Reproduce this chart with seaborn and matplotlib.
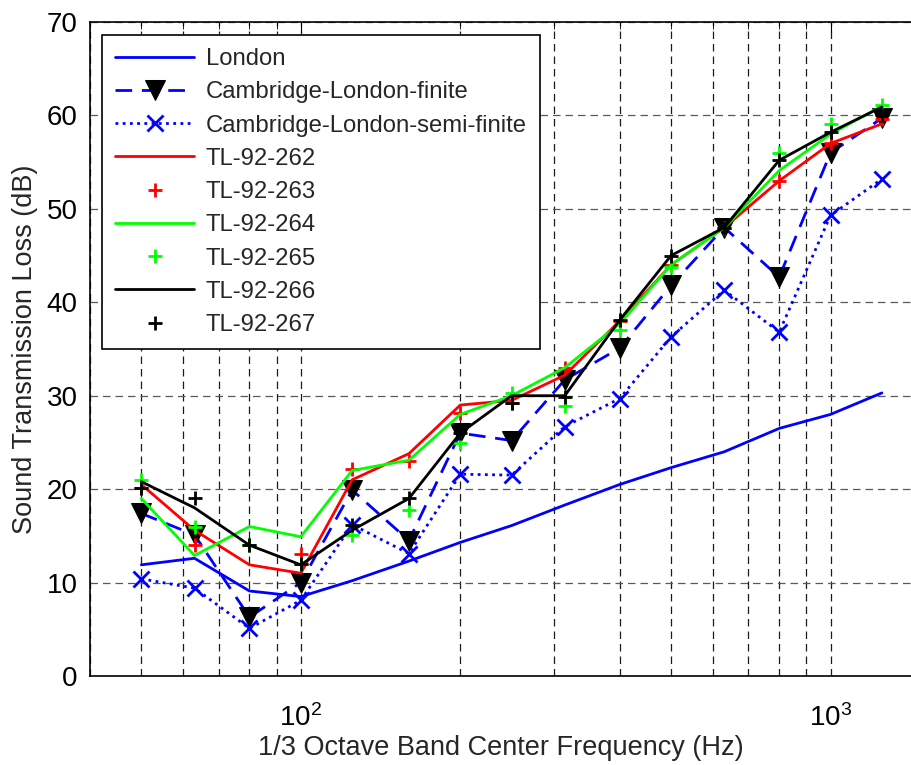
import matplotlib
matplotlib.use("Agg")
import matplotlib.pyplot as plt
import seaborn as sns

# 1/3 octave band centre frequencies (Hz)
freqs = [50, 63, 80, 100, 125, 160, 200, 250, 315, 400, 500, 630, 800, 1000, 1250]

# transmission loss (dB)
london = [11.9, 12.6, 9.1, 8.5, 10.2, 12.3, 14.3, 16.1, 18.3, 20.5, 22.3, 24.0, 26.5, 28.0, 30.3]
cam_finite = [17.4, 15.1, 6.3, 10.0, 19.9, 14.5, 26.0, 25.2, 31.7, 35.1, 41.8, 48.0, 42.7, 56.0, 59.7]
cam_semi = [10.4, 9.4, 5.1, 8.1, 16.2, 13.1, 21.6, 21.5, 26.7, 29.7, 36.3, 41.3, 36.8, 49.3, 53.2]
tl_262 = [20.5, 15.6, 11.9, 11.0, 21.0, 23.8, 29.0, 29.5, 32.2, 38.0, 44.0, 48.0, 53.0, 57.0, 59.1]
tl_263 = [20.1, 14.0, 14.0, 13.1, 22.2, 23.0, 28.1, 29.2, 33.0, 38.0, 44.0, 48.0, 53.0, 57.0, 59.6]
tl_264 = [19.0, 12.9, 16.0, 14.9, 22.0, 23.1, 28.0, 30.0, 33.0, 37.7, 44.0, 48.0, 54.1, 58.0, 61.0]
tl_265 = [21.0, 16.0, 14.0, 12.0, 15.1, 17.8, 24.9, 30.3, 28.9, 37.0, 43.8, 48.0, 56.0, 59.1, 61.1]
tl_266 = [20.8, 18.0, 14.0, 11.9, 15.6, 19.0, 26.0, 30.0, 30.0, 38.1, 45.0, 48.0, 55.2, 58.2, 60.9]
tl_267 = [20.1, 19.0, 14.0, 12.0, 16.2, 19.0, 26.0, 29.2, 29.9, 38.1, 45.0, 48.0, 55.2, 58.2, 60.0]

sns.set_style("white")
plt.rcParams["font.family"] = ["Liberation Sans", "DejaVu Sans"]
plt.rcParams["mathtext.default"] = "regular"

fig = plt.figure(figsize=(9.11, 7.65), dpi=100)
# axes runs past the right edge, like the cropped original (530 px per decade)
ax = fig.add_axes([90 / 911, 1 - 676 / 765, (990 - 90) / 911, (676 - 22) / 765])

blue, red, green = "#0000ff", "#ff0000", "#00ff00"
lw = 2.0

sns.lineplot(x=freqs, y=london, ax=ax, color=blue, lw=lw, label="London")
sns.lineplot(x=freqs, y=cam_finite, ax=ax, color=blue, lw=lw, linestyle=(0, (6, 3.5)),
             marker="v", markersize=14, markerfacecolor="k", markeredgecolor="k",
             label="Cambridge-London-finite")
sns.lineplot(x=freqs, y=cam_semi, ax=ax, color=blue, lw=lw, linestyle=(0, (1, 1.6)),
             marker="x", markersize=11, markeredgewidth=2, markeredgecolor=blue,
             label="Cambridge-London-semi-finite")
sns.lineplot(x=freqs, y=tl_262, ax=ax, color=red, lw=lw, label="TL-92-262")
sns.lineplot(x=freqs, y=tl_263, ax=ax, color=red, linestyle="none", marker="+",
             markersize=10, markeredgewidth=2, markeredgecolor=red, label="TL-92-263")
sns.lineplot(x=freqs, y=tl_264, ax=ax, color=green, lw=lw, label="TL-92-264")
sns.lineplot(x=freqs, y=tl_265, ax=ax, color=green, linestyle="none", marker="+",
             markersize=10, markeredgewidth=2, markeredgecolor=green, label="TL-92-265")
sns.lineplot(x=freqs, y=tl_266, ax=ax, color="k", lw=lw, label="TL-92-266")
sns.lineplot(x=freqs, y=tl_267, ax=ax, color="k", linestyle="none", marker="+",
             markersize=10, markeredgewidth=2, markeredgecolor="k", label="TL-92-267")

ax.set_xscale("log")
ax.set_xlim(40, 2000)
ax.set_ylim(0, 70)
ax.set_yticks(range(0, 71, 10))

ax.grid(True, which="major", axis="y", color="0.35", linestyle=(0, (6, 4)), lw=0.9)
ax.grid(True, which="both", axis="x", color="0.1", linestyle=(0, (6, 4)), lw=0.9)

for s in ax.spines.values():
    s.set_color("k")
    s.set_linewidth(1.2)
ax.tick_params(which="both", direction="in", top=True, right=True, colors="k")
ax.tick_params(which="major", length=7, labelsize=20)
ax.tick_params(which="minor", length=5)
ax.tick_params(axis="x", which="major", pad=20)
ax.tick_params(axis="y", which="major", pad=9)

ax.set_xlabel("1/3 Octave Band Center Frequency (Hz)", fontsize=19.5)
ax.set_ylabel("Sound Transmission Loss (dB)", fontsize=19.5, labelpad=6)
# the visible part of the axes is cropped, so centre the label on the visible width
ax.xaxis.set_label_coords((501 - 90) / 900, (676 - 735) / 654)

leg = ax.legend(loc="upper left", bbox_to_anchor=(12 / 900, 1 - 13 / 654), borderaxespad=0,
                fontsize=17.2, handlelength=3.3, handletextpad=0.5, labelspacing=0.47,
                borderpad=0.55, fancybox=False, framealpha=1, edgecolor="k")
leg.get_frame().set_linewidth(1.2)

fig.savefig("out.png", dpi=100)
